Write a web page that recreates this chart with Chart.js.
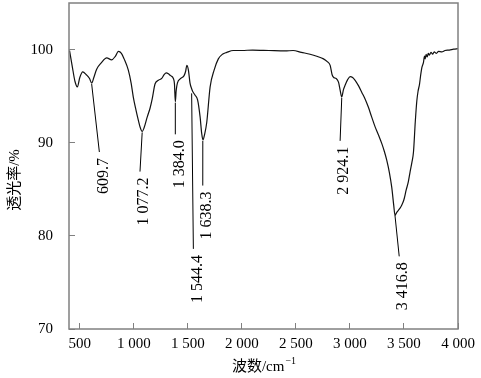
<!DOCTYPE html>
<html>
<head>
<meta charset="utf-8">
<script src="https://cdn.jsdelivr.net/npm/chart.js@4.4.1/dist/chart.umd.min.js"></script>
<style>
  body { margin: 0; background: #fff; }
</style>
</head>
<body>
<canvas id="irChart" width="481" height="378"></canvas>
<script>
/* IR spectrum data */
const waveNumbers = [
    405, 430, 455, 477, 500, 527, 560, 590, 610, 630, 656, 700, 749, 795, 830, 857, 885, 910, 949, 975,
    995, 1020, 1042, 1060, 1077, 1095, 1125, 1150, 1170, 1196, 1227, 1258, 1280, 1300, 1320, 1340, 1366, 1376, 1384, 1392,
    1403, 1434, 1465, 1480, 1490, 1505, 1520, 1535, 1545, 1567, 1590, 1613, 1628, 1640, 1655, 1675, 1706, 1743, 1782, 1820,
    1860, 1920, 2000, 2100, 2250, 2400, 2474, 2550, 2631, 2700, 2755, 2790, 2817, 2835, 2850, 2872, 2894, 2910, 2924, 2940,
    2956, 2980, 3002, 3025, 3048, 3080, 3110, 3140, 3171, 3200, 3233, 3265, 3295, 3320, 3341, 3365, 3387, 3405, 3417, 3432,
    3449, 3465, 3480, 3500, 3520, 3540, 3557, 3575, 3588, 3605, 3619, 3630, 3644, 3655, 3666, 3680, 3690, 3696, 3705, 3715,
    3725, 3735, 3750, 3765, 3780, 3800, 3820, 3850, 3880, 3920, 3960, 4000
];
const transmittance = [
    99.9, 98.2, 96.6, 96.0, 97.0, 97.6, 97.3, 96.9, 96.4, 97.0, 97.9, 98.6, 99.1, 98.9, 99.3, 99.8, 99.6, 99.0, 97.8, 96.4,
    94.9, 93.5, 92.4, 91.6, 91.2, 91.6, 92.8, 93.7, 94.7, 96.3, 96.7, 96.9, 97.3, 97.5, 97.4, 97.2, 96.9, 96.3, 94.4, 95.6,
    96.4, 96.9, 97.2, 97.7, 98.3, 97.8, 96.4, 95.8, 95.5, 95.1, 94.6, 92.8, 91.0, 90.3, 90.9, 92.2, 96.0, 97.8, 99.0, 99.5,
    99.7, 99.9, 99.9, 99.95, 99.9, 99.85, 99.9, 99.7, 99.5, 99.25, 99.0, 98.7, 98.3, 97.3, 97.0, 96.9, 96.5, 95.6, 94.9, 95.7,
    96.2, 96.8, 97.1, 97.0, 96.7, 96.1, 95.4, 94.7, 93.8, 92.8, 91.7, 90.8, 89.9, 89.0, 88.1, 86.8, 85.2, 83.3, 82.2, 82.5,
    82.75, 83.0, 83.3, 83.9, 84.9, 85.8, 86.9, 88.0, 89.0, 92.3, 94.5, 95.5, 96.3, 97.3, 98.1, 98.6, 99.3, 99.0, 99.5, 99.2,
    99.6, 99.4, 99.7, 99.5, 99.75, 99.6, 99.8, 99.75, 99.9, 99.95, 100.05, 100.1
];

const xTicks = [500, 1000, 1500, 2000, 2500, 3000, 3500, 4000];
const xTickLabels = ['500', '1 000', '1 500', '2 000', '2 500', '3 000', '3 500', '4 000'];
const yTicks = [70, 80, 90, 100];

/* peak annotations: label, start point on the curve, end of the leader line */
const peakLabels = ['609.7', '1 077.2', '1 384.0', '1 544.4', '1 638.3', '2 924.1', '3 416.8'];
const peakWn = [609.7, 1077.2, 1384.0, 1535, 1638.3, 2924.1, 3416.8];
const peakT = [96.3, 91.1, 94.3, 95.3, 90.2, 94.8, 82.2];
const leaderEndWn = [681, 1057, 1384, 1551, 1638, 2909, 3456];
const leaderEndT = [89.0, 86.9, 90.9, 78.6, 85.4, 90.2, 77.8];

const serif = '"Liberation Serif", "Times New Roman", "Noto Sans CJK SC", serif';
Chart.defaults.font.family = serif;
Chart.defaults.font.size = 15;
Chart.defaults.color = '#000';

const zeroPadding = (s) => {
    s.paddingLeft = 0; s.paddingRight = 0; s.paddingTop = 0; s.paddingBottom = 0;
};

const peakMarks = {
    id: 'peakMarks',
    afterDatasetsDraw(chart) {
        const { ctx, scales: { x, y }, chartArea: a } = chart;
        ctx.save();
        // frame around the plot
        ctx.strokeStyle = '#808080';
        ctx.lineWidth = 1.5;
        ctx.strokeRect(a.left, a.top, a.right - a.left, a.bottom - a.top);

        // leader lines and rotated peak labels
        ctx.strokeStyle = '#000';
        ctx.lineWidth = 1;
        ctx.fillStyle = '#000';
        ctx.font = '16px ' + serif;
        peakLabels.forEach((lab, i) => {
            const x0 = x.getPixelForValue(peakWn[i]);
            const y0 = y.getPixelForValue(peakT[i]);
            const x1 = x.getPixelForValue(leaderEndWn[i]);
            const y1 = y.getPixelForValue(leaderEndT[i]);
            ctx.beginPath();
            ctx.moveTo(x0, y0);
            ctx.lineTo(x1, y1);
            ctx.stroke();
            ctx.save();
            ctx.translate(x1 + 4, y1 + 6);
            ctx.rotate(-Math.PI / 2);
            ctx.textAlign = 'right';
            ctx.textBaseline = 'middle';
            ctx.fillText(lab, 0, 0);
            ctx.restore();
        });

        // y axis title
        ctx.save();
        ctx.translate(15, 180);
        ctx.rotate(-Math.PI / 2);
        ctx.textAlign = 'center';
        ctx.textBaseline = 'middle';
        ctx.font = '15px ' + serif;
        ctx.fillText('透光率/%', 0, 0);
        ctx.restore();

        // x axis title with superscript
        ctx.font = '15px ' + serif;
        ctx.textBaseline = 'alphabetic';
        ctx.textAlign = 'left';
        const main = '波数/cm';
        const wMain = ctx.measureText(main).width;
        ctx.font = '10px ' + serif;
        const wSup = ctx.measureText('\u22121').width;
        const startX = (a.left + a.right) / 2 - (wMain + wSup) / 2;
        ctx.font = '15px ' + serif;
        ctx.fillText(main, startX, 371);
        ctx.font = '10px ' + serif;
        ctx.fillText('\u22121', startX + wMain + 1, 364);
        ctx.restore();
    }
};

new Chart(document.getElementById('irChart'), {
    type: 'line',
    data: {
        datasets: [{
            data: waveNumbers.map((w, i) => ({ x: w, y: transmittance[i] })),
            borderColor: '#111',
            borderWidth: 1.2,
            pointRadius: 0,
            cubicInterpolationMode: 'monotone',
            fill: false
        }]
    },
    options: {
        responsive: false,
        animation: false,
        layout: { padding: { top: 3, right: 23, left: 0, bottom: 0 } },
        plugins: { legend: { display: false }, tooltip: { enabled: false } },
        scales: {
            x: {
                type: 'linear',
                min: 400,
                max: 4000,
                afterBuildTicks: (s) => { s.ticks = xTicks.map(v => ({ value: v })); },
                afterFit: (s) => { s.height = 49; zeroPadding(s); },
                border: { display: false },
                grid: { drawOnChartArea: false, tickLength: -6, color: '#808080' },
                ticks: {
                    padding: 12,
                    maxRotation: 0,
                    autoSkip: false,
                    callback: (v) => xTickLabels[xTicks.indexOf(v)]
                }
            },
            y: {
                min: 70,
                max: 105,
                afterBuildTicks: (s) => { s.ticks = yTicks.map(v => ({ value: v })); },
                afterFit: (s) => { s.width = 69; zeroPadding(s); },
                border: { display: false },
                grid: { drawOnChartArea: false, tickLength: -6, color: '#808080' },
                ticks: { padding: 22 }
            }
        }
    },
    plugins: [peakMarks]
});
</script>
</body>
</html>
